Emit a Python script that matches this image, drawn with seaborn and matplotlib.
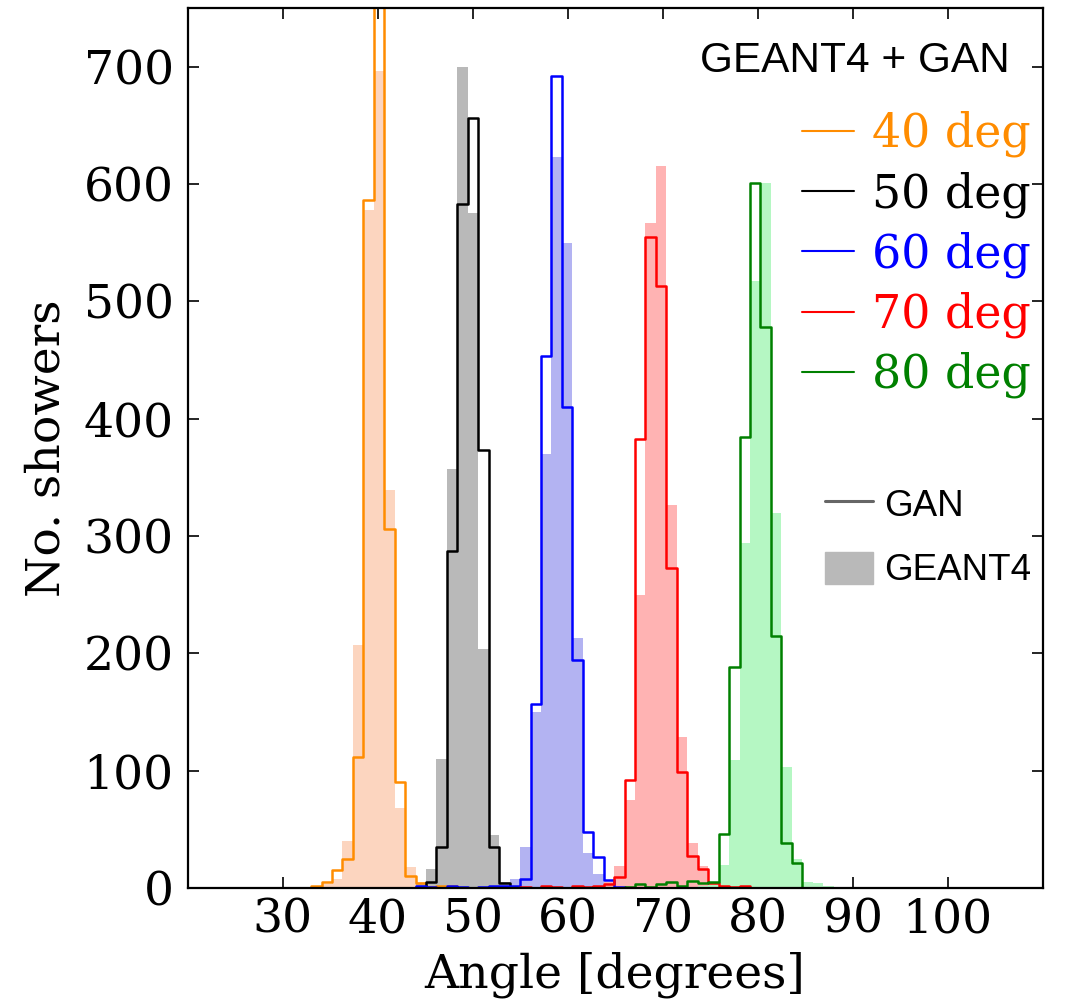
import numpy as np
import pandas as pd
import matplotlib
matplotlib.use("Agg")
import matplotlib.pyplot as plt
from matplotlib.lines import Line2D
from matplotlib.patches import Patch
import seaborn as sns

# --- Histogram data (counts per 1.1 degree bin, bin k spans 1.1*k .. 1.1*(k+1)) ---
bin_width = 1.1
bin_edges = list(np.round(bin_width * np.arange(28, 85), 2))

angles = ["40 deg", "50 deg", "60 deg", "70 deg", "80 deg"]

# GAN histograms: first bin index, counts
gan_start = [30, 40, 39, 50, 60]
gan_40 = [2, 5, 15, 25, 112, 586, 900, 306, 90, 10, 4, 1, 2, 2]
gan_50 = [1, 5, 35, 287, 583, 656, 373, 35, 4, 1]
gan_60 = [0, 2, 1, 0, 2, 1, 0, 1, 2, 2, 2, 8, 157, 453, 692, 410, 194, 48, 26, 7, 1]
gan_70 = [1, 0, 2, 1, 0, 2, 1, 2, 3, 9, 92, 383, 555, 513, 273, 99, 27, 16, 4, 2, 1, 2]
gan_80 = [1, 3, 1, 3, 5, 2, 6, 4, 5, 46, 188, 384, 601, 478, 215, 38, 21]

# GEANT4 histograms: first bin index, counts
g4_start = [30, 40, 47, 57, 67]
g4_40 = [1, 3, 8, 40, 207, 578, 696, 339, 68, 18, 5, 1]
g4_50 = [3, 16, 110, 357, 700, 575, 204, 45, 5, 1]
g4_60 = [1, 3, 8, 35, 150, 370, 623, 550, 213, 30, 12, 4, 1]
g4_70 = [2, 5, 19, 75, 250, 567, 615, 326, 129, 38, 19, 5, 2]
g4_80 = [2, 5, 20, 109, 294, 517, 601, 320, 103, 25, 5, 4, 2]

line_colors = ["#ff8c00", "black", "blue", "red", "#008000"]
fill_colors = ["#fcd5bf", "#b9b9b9", "#b3b3f2", "#ffb3b3", "#b5f7c3"]

gan_counts = [gan_40, gan_50, gan_60, gan_70, gan_80]
g4_counts = [g4_40, g4_50, g4_60, g4_70, g4_80]


def hist_frame(start, counts):
    # one row per bin: bin centre and its count (used as weight)
    return pd.DataFrame({
        "angle": bin_width * (start + np.arange(len(counts)) + 0.5),
        "count": counts,
    })


sns.set_style("ticks")
plt.rcParams["font.family"] = ["DejaVu Serif"]
for key in ["text.color", "axes.labelcolor", "xtick.color", "ytick.color", "axes.edgecolor"]:
    plt.rcParams[key] = "black"

fig = plt.figure(figsize=(10.66, 10), dpi=100)
ax = fig.add_axes([0.176, 0.112, 0.802, 0.880])

# GEANT4 filled histograms first
for start, counts, col in zip(g4_start, g4_counts, fill_colors):
    sns.histplot(data=hist_frame(start, counts), x="angle", weights="count", bins=bin_edges,
                 element="step", fill=True, alpha=1, color=col, linewidth=0, ax=ax)

# GAN step outlines on top
for start, counts, col in zip(gan_start, gan_counts, line_colors):
    sns.histplot(data=hist_frame(start, counts), x="angle", weights="count", bins=bin_edges,
                 element="step", fill=False, color=col, linewidth=1.8, ax=ax)

ax.set_xlim(20, 110)
ax.set_ylim(0, 750)
ax.set_xticks([30, 40, 50, 60, 70, 80, 90, 100])
ax.set_yticks(range(0, 800, 100))
ax.tick_params(direction="in", top=True, right=True, length=8, width=1.2,
               labelsize=34, pad=7)
ax.tick_params(axis="y", pad=10)
for sp in ax.spines.values():
    sp.set_linewidth(1.6)
    sp.set_visible(True)

ax.set_xlabel("Angle [degrees]", fontsize=34, labelpad=6)
ax.set_ylabel("No. showers", fontsize=34, labelpad=10)

# Angle legend
handles = [Line2D([], [], color=c, lw=1.5) for c in line_colors]
leg1 = ax.legend(handles, angles, loc="upper left", bbox_to_anchor=(0.719, 0.883),
                 frameon=False, fontsize=33, labelcolor=line_colors,
                 handlelength=1.13, handletextpad=0.39, labelspacing=0.3,
                 borderpad=0, borderaxespad=0)
ax.add_artist(leg1)

ax.text(0.781, 0.940, "GEANT4 + GAN", transform=ax.transAxes, ha="center", va="center",
        fontsize=30.5, family="Liberation Sans")

# Source legend
handles2 = [Line2D([], [], color="#666666", lw=2.2), Patch(color="#b9b9b9")]
ax.legend(handles2, ["GAN", "GEANT4"], loc="upper left", bbox_to_anchor=(0.745, 0.456),
          frameon=False, prop={"family": "Liberation Sans", "size": 26.5},
          handlelength=1.33, handleheight=0.98, handletextpad=0.3, labelspacing=0.76,
          borderpad=0, borderaxespad=0)

fig.savefig("out.png", dpi=100)
